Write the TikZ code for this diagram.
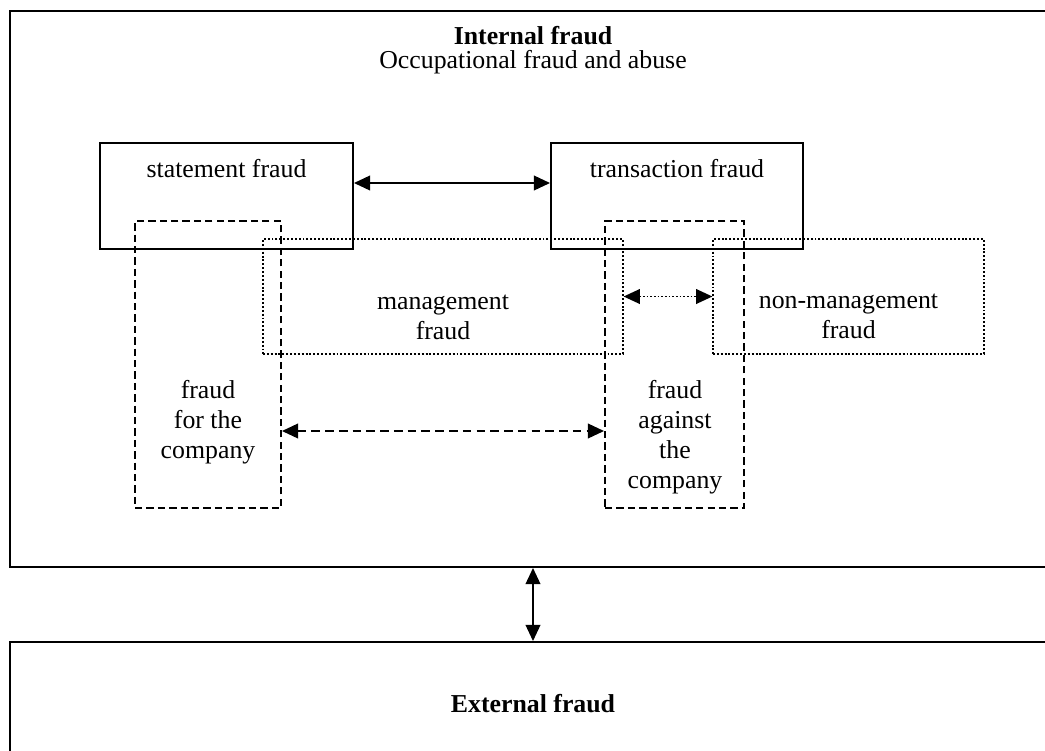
\documentclass[tikz,border=0pt]{standalone}
\usepackage{fontspec}
\setmainfont{Liberation Serif}
\usetikzlibrary{arrows.meta,fit}

\tikzset{
  solidbox/.style={draw, line width=0.9pt, inner sep=0pt},
  dashbox/.style={draw, line width=0.9pt, dash pattern=on 3.4pt off 1.9pt, inner sep=0pt},
  dotbox/.style={draw, line width=0.6pt, dash pattern=on 0.9pt off 0.9pt, inner sep=0pt},
  txt/.style={inner sep=0pt, align=center},
  link/.style={{Triangle[length=7.5pt,width=6.8pt]}-{Triangle[length=7.5pt,width=6.8pt]}, line width=0.9pt},
}

\begin{document}
\fontsize{12}{14}\selectfont
\begin{tikzpicture}[x=0.465pt,y=-0.465pt]
\clip (0,0) rectangle (1045,751);
% frames
\node (internal) [solidbox, fit={(10,11) (1056,567)}] {};
\node (external) [solidbox, fit={(10,642) (1056,800)}] {};
\node (inttitle) [txt, anchor=base, font=\bfseries] at (533,44) {Internal fraud};
\node (intsub) [txt, anchor=base] at (533,68.5) {Occupational fraud and abuse};
\node (exttitle) [txt, anchor=base, font=\bfseries] at (533,712) {External fraud};
% kinds of fraud
\node (statement) [solidbox, fit={(100,143) (353,249)}] {};
\node (transaction) [solidbox, fit={(551,143) (803,249)}] {};
\node (forco) [dashbox, fit={(135,221) (281,508)}] {};
\node (against) [dashbox, fit={(605,221) (744,508)}] {};
\node (mgmt) [dotbox, fit={(263,239) (623,354)}] {};
\node (nonmgmt) [dotbox, fit={(713,239) (984,354)}] {};
% labels
\node (statementtxt) [txt, anchor=base] at (226.5,177) {statement fraud};
\node (transactiontxt) [txt, anchor=base] at (677,177) {transaction fraud};
\node (mgmttxt) [txt] at (443,317.5) {management\\fraud};
\node (nonmgmttxt) [txt] at (848.5,316.5) {non-management\\fraud};
\node (forcotxt) [txt] at (208,422) {fraud\\for the\\company};
\node (againsttxt) [txt] at (675,437) {fraud\\against\\the\\company};
% links
\draw[link] (statement.east |- 0,183) -- (transaction.west |- 0,183);
\draw[link, line width=0.7pt, dash pattern=on 0.8pt off 0.9pt] (mgmt.east) -- (nonmgmt.west);
\draw[link, dash pattern=on 4pt off 2.4pt] (forco.east |- 0,431) -- (against.west |- 0,431);
\draw[link] (internal.south) -- (external.north);
\end{tikzpicture}
\end{document}
